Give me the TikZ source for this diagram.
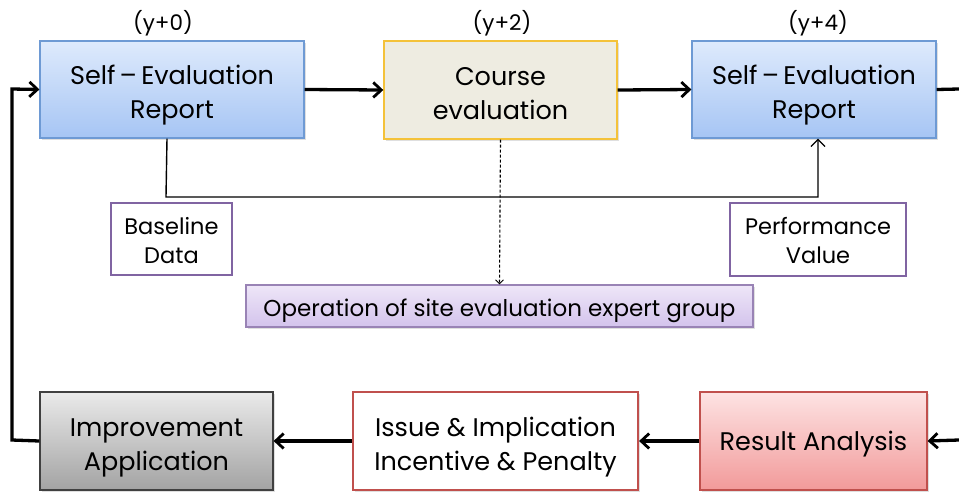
\documentclass[tikz,border=0pt]{standalone}
\usepackage{fontspec}
\setmainfont{Poppins}
\usetikzlibrary{arrows.meta,shadows,calc}
\definecolor{blueTop}{HTML}{DEEAFC}
\definecolor{blueBot}{HTML}{A6C5F4}
\definecolor{blueLine}{HTML}{6E9AD4}
\definecolor{creamFill}{HTML}{EEECE1}
\definecolor{yellowLine}{HTML}{F4C23A}
\definecolor{purpleLine}{HTML}{8064A2}
\definecolor{lavTop}{HTML}{EEE6F8}
\definecolor{lavBot}{HTML}{D3C3EC}
\definecolor{grayTop}{HTML}{EAEAEA}
\definecolor{grayBot}{HTML}{A3A3A3}
\definecolor{redLine}{HTML}{C0504D}
\definecolor{pinkTop}{HTML}{FDE3E3}
\definecolor{pinkBot}{HTML}{F29A9A}
\tikzset{
  box/.style={rectangle, align=center, font=\fontsize{25.5}{34}\selectfont, inner sep=0pt,
    drop shadow={shadow xshift=1.5pt, shadow yshift=-1.5pt, opacity=0.25}},
  twoline/.style={text height=59pt, text depth=1pt},
  oneline/.style={text height=25pt, text depth=6.5pt},
  bluebox/.style={box, twoline, draw=blueLine, line width=1.2pt, top color=blueTop, bottom color=blueBot,
    minimum width=264pt, minimum height=97pt},
  coursebox/.style={box, twoline, draw=yellowLine, line width=1.4pt, fill=creamFill,
    minimum width=233pt, minimum height=98pt},
  databox/.style={rectangle, align=center, draw=purpleLine, line width=2.2pt, fill=white,
    font=\fontsize{22.5}{29}\selectfont, inner sep=0pt, text height=49.5pt, text depth=1pt},
  operbox/.style={box, draw=purpleLine!80, line width=1.2pt, top color=lavTop, bottom color=lavBot,
    font=\fontsize{23}{26}\selectfont, minimum width=507pt, minimum height=42pt,
    text height=27pt, text depth=5.8pt},
  graybox/.style={box, twoline, draw=black!75, line width=1.2pt, top color=grayTop, bottom color=grayBot,
    minimum width=233pt, minimum height=98pt},
  issuebox/.style={box, twoline, draw=redLine, line width=2.2pt, fill=white,
    minimum width=285pt, minimum height=98pt},
  pinkbox/.style={box, oneline, draw=redLine, line width=1.2pt, top color=pinkTop, bottom color=pinkBot,
    minimum width=227pt, minimum height=98pt},
  yrlabel/.style={font=\fontsize{21.5}{24}\selectfont, inner sep=0pt},
  flow/.style={line width=3.3pt, -{Straight Barb[length=8pt,width=15pt,line width=2.8pt]}},
  thinflow/.style={line width=1.4pt, -{Straight Barb[length=7pt,width=14pt,line width=1.3pt]}},
  dashflow/.style={line width=1.1pt, dashed, dash pattern=on 3pt off 2pt, -{Straight Barb[length=4pt,width=8pt,line width=0.9pt]}},
}
\begin{document}
\begin{tikzpicture}[x=1pt,y=-1pt]
\useasboundingbox (0,0) rectangle (959,491);
% top row
\node[bluebox] (se1) at (172,89.5) {Self\,–\,Evaluation\\Report};
\node[coursebox] (course) at (500.5,90) {Course\\evaluation};
\node[bluebox, minimum width=244pt] (se2) at (814,89.5) {Self\,–\,Evaluation\\Report};
\node[yrlabel] (y0) at (163,23) {(y+0)};
\node[yrlabel] (y2) at (502,23) {(y+2)};
\node[yrlabel] (y4) at (818,23) {(y+4)};
% middle
\node[databox, minimum width=121pt, minimum height=72pt] (base) at (171.5,239) {Baseline\\Data};
\node[databox, minimum width=176pt, minimum height=73pt] (perf) at (818,239.5) {Performance\\Value};
\node[operbox] (oper) at (499.5,306) {Operation of site evaluation expert group};
% bottom row
\node[graybox] (impr) at (156.5,441) {Improvement\\Application};
\node[issuebox] (issue) at (495.5,441) {Issue \& Implication\\Incentive \& Penalty};
\node[pinkbox] (result) at (813.5,441) {Result Analysis};
% coordinates
\coordinate (rtop) at (959,89);
\coordinate (rbot) at (959,440);
\coordinate (lbot) at (12,440);
\coordinate (ltop) at (12,89);
\coordinate (s1) at ($(se1.south)+(-5,0)$);
\coordinate (s2) at ($(se2.south)+(4,0)$);
\coordinate (mid1) at (166,197);
% connectors
\draw[flow] (se1.east) -- (course.west);
\draw[flow] (course.east) -- (se2.west);
\draw[line width=3.3pt] (se2.east) -- (rtop);
\draw[flow] (rbot) -- (result.east);
\draw[flow] (result.west) -- (issue.east);
\draw[flow] (issue.west) -- (impr.east);
\draw[flow] (impr.west) -- (lbot) -- (ltop) -- (se1.west);
\draw[thinflow] (s1) -- (mid1) -| (s2);
\draw[dashflow] (course.south) -- (oper.north);
\end{tikzpicture}
\end{document}
